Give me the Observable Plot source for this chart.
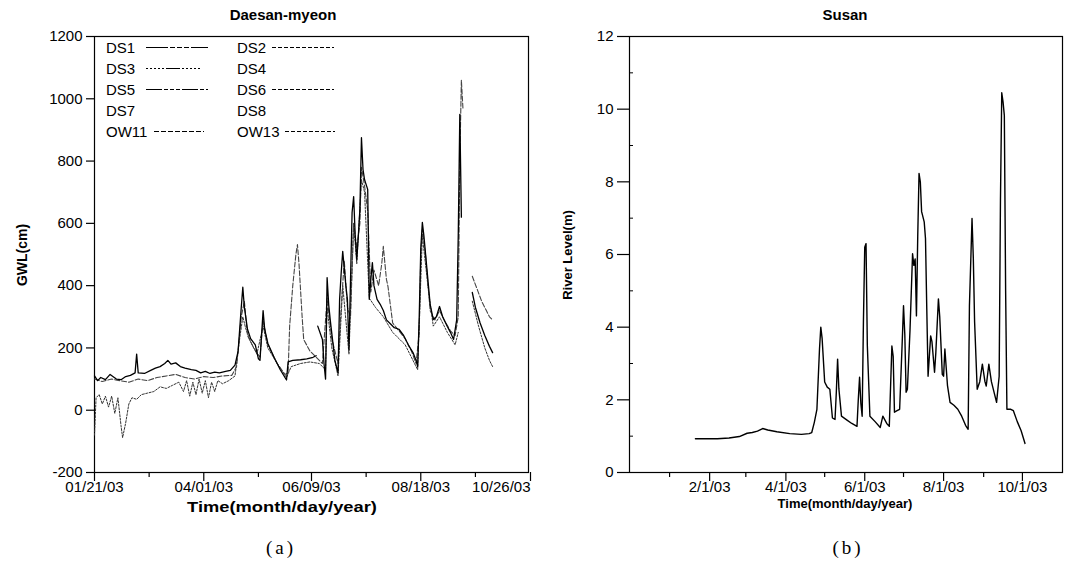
<!DOCTYPE html>
<html>
<head>
<meta charset="utf-8">
<script src="https://cdn.jsdelivr.net/npm/d3@7"></script>
<script src="https://cdn.jsdelivr.net/npm/@observablehq/plot@0.6"></script>
<style>
  body { margin: 0; background: #fff; }
  #wrap { position: relative; width: 1066px; height: 574px; font-family: "Liberation Sans", Arial, sans-serif; color: #000; overflow: hidden; }
  .abs { position: absolute; white-space: nowrap; }
  .title { font-weight: bold; font-size: 15px; transform: translate(-50%, -50%); }
  .xlab { font-weight: bold; font-size: 15px; line-height: 15px; transform: translate(-50%, -50%) scaleX(1.22); }
  .xlab.small { font-size: 13px; line-height: 13px; transform: translate(-50%, -50%); }
  .ylab { font-weight: bold; font-size: 14px; transform: translate(-50%, -50%) rotate(-90deg); }
  .cap { font-family: "Liberation Serif", "DejaVu Serif", serif; font-size: 19px; letter-spacing: 3px; transform: translate(-50%, -50%); }
  .leg { font-size: 15px; display: flex; align-items: center; transform: translateY(-50%); }
  #wrap svg.plot { position: absolute; top: 0; }
</style>
</head>
<body>
<div id="wrap"></div>
<script>
// ---------- data ----------
const gwlTitle = "Daesan-myeon";
const riverTitle = "Susan";
const xTitle = "Time(month/day/year)";
const gwlYLabel = "GWL(cm)";
const riverYLabel = "River Level(m)";

const gwlXTicks = ["2003-01-21", "2003-04-01", "2003-06-09", "2003-08-18", "2003-10-26"];
const gwlXMinor = ["2003-02-25", "2003-05-06", "2003-07-14", "2003-09-22"];
const gwlYTicks = [-200, 0, 200, 400, 600, 800, 1000, 1200];

const riverXTicks = ["2003-02-01", "2003-04-01", "2003-06-01", "2003-08-01", "2003-10-01"];
const riverXMinor = ["2003-01-01", "2003-03-01", "2003-05-01", "2003-07-01", "2003-09-01"];
const riverYTicks = [0, 2, 4, 6, 8, 10, 12];
const riverYMinor = [1, 3, 5, 7, 9, 11];

const legendNames = ["DS1", "DS2", "DS3", "DS4", "DS5", "DS6", "DS7", "DS8", "OW11", "OW13"];
const legendDash = ["22 2 5 2 5 2 5 2", "4 2", "2 2 2 2 2 2 2 2 2 2 14", "", "16 2 4 2 4 2 4 2", "4 2 4 2", "", "", "5 2", "4 2 4 2"];

// DS1 (solid)
const ds1 = [
  ["2003-01-21",110],["2003-01-23",95],["2003-01-25",105],["2003-01-28",98],["2003-01-31",115],["2003-02-04",100],
  ["2003-02-07",98],["2003-02-10",108],["2003-02-13",112],["2003-02-16",120],["2003-02-17",180],["2003-02-18",120],
  ["2003-02-22",118],["2003-02-26",128],["2003-03-01",135],["2003-03-04",140],["2003-03-07",150],["2003-03-09",160],
  ["2003-03-11",148],["2003-03-14",152],["2003-03-17",140],["2003-03-20",135],["2003-03-24",130],["2003-03-27",128],
  ["2003-03-30",120],["2003-04-02",125],["2003-04-05",118],["2003-04-08",122],["2003-04-11",120],["2003-04-15",125],
  ["2003-04-18",128],["2003-04-21",145],["2003-04-23",190],["2003-04-25",330],["2003-04-26",395],["2003-04-27",330],
  ["2003-04-29",260],["2003-05-01",230],["2003-05-04",210],["2003-05-06",165],["2003-05-07",160],["2003-05-09",320],
  ["2003-05-10",260],["2003-05-12",215],["2003-05-16",170],["2003-05-20",130],["2003-05-24",97],["2003-05-25",155],
  ["2003-05-28",160],["2003-06-02",162],["2003-06-06",165],["2003-06-10",170],["2003-06-12",175],["2003-06-12",null],
  ["2003-06-13",270],["2003-06-16",227],["2003-06-17",150],["2003-06-18",100],["2003-06-19",426],["2003-06-20",340],
  ["2003-06-21",290],["2003-06-24",160],["2003-06-26",120],["2003-06-27",356],["2003-06-28",440],["2003-06-29",510],
  ["2003-07-01",400],["2003-07-02",356],["2003-07-03",195],["2003-07-04",420],["2003-07-05",635],["2003-07-06",686],
  ["2003-07-07",560],["2003-07-08",484],["2003-07-09",560],["2003-07-10",645],["2003-07-11",875],["2003-07-12",773],
  ["2003-07-13",740],["2003-07-15",709],["2003-07-16",356],["2003-07-17",420],["2003-07-18",474],["2003-07-19",400],
  ["2003-07-21",356],["2003-07-23",340],["2003-07-25",320],["2003-07-27",290],["2003-07-30",275],["2003-08-01",265],
  ["2003-08-04",260],["2003-08-07",240],["2003-08-10",210],["2003-08-13",185],["2003-08-15",160],["2003-08-16",140],
  ["2003-08-17",300],["2003-08-18",520],["2003-08-19",603],["2003-08-20",560],["2003-08-22",450],["2003-08-24",340],
  ["2003-08-26",291],["2003-08-28",300],["2003-08-30",333],["2003-09-01",300],["2003-09-04",269],["2003-09-06",250],
  ["2003-09-08",227],["2003-09-10",290],["2003-09-11",560],["2003-09-12",950],["2003-09-13",620],["2003-09-13",null],
  ["2003-09-20",378],["2003-09-22",330],["2003-09-25",280],["2003-09-28",240],["2003-10-01",205],["2003-10-03",185]
];

// DS2 (dashed)
const ds2 = [
  ["2003-01-21",100],["2003-01-26",92],["2003-02-01",100],["2003-02-06",95],["2003-02-12",90],["2003-02-18",100],
  ["2003-02-24",95],["2003-03-02",105],["2003-03-08",110],["2003-03-14",115],["2003-03-20",105],["2003-03-26",100],
  ["2003-04-01",108],["2003-04-07",105],["2003-04-13",110],["2003-04-19",112],["2003-04-22",140],["2003-04-25",300],
  ["2003-04-27",350],["2003-04-29",240],["2003-05-03",200],["2003-05-07",170],["2003-05-09",290],["2003-05-12",210],
  ["2003-05-18",150],["2003-05-23",115],["2003-05-25",120],["2003-05-26",270],["2003-05-28",400],["2003-05-30",500],
  ["2003-05-31",532],["2003-06-01",470],["2003-06-03",300],["2003-06-04",227],["2003-06-08",190],["2003-06-12",170],
  ["2003-06-16",150],["2003-06-19",360],["2003-06-22",230],["2003-06-26",150],["2003-06-28",330],["2003-06-30",480],
  ["2003-07-02",330],["2003-07-04",300],["2003-07-06",600],["2003-07-08",520],["2003-07-10",600],["2003-07-11",780],
  ["2003-07-13",720],["2003-07-15",640],["2003-07-17",380],["2003-07-19",450],["2003-07-22",400],["2003-07-24",470],
  ["2003-07-25",526],["2003-07-27",420],["2003-07-28",397],["2003-07-31",280],["2003-08-04",255],["2003-08-08",230],
  ["2003-08-12",190],["2003-08-15",150],["2003-08-17",250],["2003-08-18",500],["2003-08-19",580],["2003-08-21",500],
  ["2003-08-24",320],["2003-08-27",290],["2003-08-30",320],["2003-09-02",290],["2003-09-06",255],["2003-09-09",240],
  ["2003-09-11",300],["2003-09-12",800],["2003-09-13",1060],["2003-09-14",970],["2003-09-14",null],
  ["2003-09-20",430],["2003-09-23",390],["2003-09-26",350],["2003-09-29",320],["2003-10-01",300],["2003-10-03",290]
];

// DS3 (dotted, lower early record)
const ds3 = [
  ["2003-01-21",-80],["2003-01-22",40],["2003-01-24",50],["2003-01-26",20],["2003-01-28",45],["2003-01-30",10],
  ["2003-02-01",45],["2003-02-03",-10],["2003-02-05",40],["2003-02-07",-50],["2003-02-08",-88],["2003-02-10",-40],
  ["2003-02-12",20],["2003-02-14",40],["2003-02-17",35],["2003-02-20",50],["2003-02-24",55],["2003-02-28",60],
  ["2003-03-04",75],["2003-03-08",70],["2003-03-12",80],["2003-03-16",90],["2003-03-19",60],["2003-03-21",95],
  ["2003-03-23",45],["2003-03-25",90],["2003-03-27",50],["2003-03-29",100],["2003-03-31",55],["2003-04-02",95],
  ["2003-04-04",40],["2003-04-06",90],["2003-04-08",60],["2003-04-10",95],["2003-04-13",85],["2003-04-17",95],
  ["2003-04-21",110],["2003-04-24",230],["2003-04-26",300],["2003-04-28",260],["2003-05-01",220],["2003-05-05",180],
  ["2003-05-09",270],["2003-05-12",200],["2003-05-18",150],["2003-05-24",105],["2003-05-27",140],["2003-06-02",150],
  ["2003-06-08",155],["2003-06-14",150],["2003-06-18",130],["2003-06-19",330],["2003-06-22",200],["2003-06-26",110],
  ["2003-06-29",400],["2003-07-03",180],["2003-07-06",600],["2003-07-08",470],["2003-07-11",740],["2003-07-13",700],
  ["2003-07-16",360],["2003-07-20",330],["2003-07-25",300],["2003-07-31",250],["2003-08-08",210],["2003-08-16",130],
  ["2003-08-19",560],["2003-08-23",380],["2003-08-26",270],["2003-08-30",300],["2003-09-04",250],["2003-09-09",210],
  ["2003-09-11",250],["2003-09-11",null],["2003-09-20",350],["2003-09-24",270],["2003-09-28",200],["2003-10-01",160],
  ["2003-10-03",140]
];

// Susan river level (m)
const river = [
  ["2003-01-21",0.93],["2003-01-28",0.93],["2003-02-07",0.93],["2003-02-16",0.95],["2003-02-24",0.99],["2003-03-02",1.08],
  ["2003-03-06",1.10],["2003-03-10",1.14],["2003-03-14",1.21],["2003-03-18",1.17],["2003-03-25",1.12],["2003-04-04",1.07],
  ["2003-04-13",1.05],["2003-04-19",1.07],["2003-04-21",1.10],["2003-04-23",1.38],["2003-04-25",1.74],["2003-04-27",3.40],
  ["2003-04-28",4.0],["2003-04-29",3.7],["2003-05-01",2.49],["2003-05-03",2.35],["2003-05-05",2.29],["2003-05-07",1.50],
  ["2003-05-09",1.46],["2003-05-10",2.2],["2003-05-11",3.12],["2003-05-12",2.3],["2003-05-14",1.55],["2003-05-18",1.45],
  ["2003-05-22",1.35],["2003-05-26",1.27],["2003-05-27",2.0],["2003-05-28",2.62],["2003-05-29",1.9],["2003-05-30",1.55],
  ["2003-05-31",4.2],["2003-06-01",6.2],["2003-06-02",6.3],["2003-06-03",3.5],["2003-06-05",1.55],["2003-06-09",1.40],
  ["2003-06-13",1.24],["2003-06-15",1.55],["2003-06-18",1.35],["2003-06-20",1.27],["2003-06-22",3.48],["2003-06-23",3.20],
  ["2003-06-24",1.66],["2003-06-26",1.70],["2003-06-28",1.74],["2003-06-30",3.6],["2003-07-01",4.59],["2003-07-02",3.8],
  ["2003-07-03",2.21],["2003-07-04",2.29],["2003-07-06",3.9],["2003-07-08",6.02],["2003-07-09",5.7],["2003-07-10",5.88],
  ["2003-07-11",4.31],["2003-07-12",6.5],["2003-07-13",8.23],["2003-07-14",8.0],["2003-07-15",7.18],["2003-07-17",6.9],
  ["2003-07-18",6.44],["2003-07-19",4.5],["2003-07-20",2.65],["2003-07-22",3.76],["2003-07-23",3.6],["2003-07-25",2.76],
  ["2003-07-26",3.3],["2003-07-28",4.78],["2003-07-29",4.3],["2003-07-31",2.7],["2003-08-01",2.65],["2003-08-02",3.40],
  ["2003-08-04",2.4],["2003-08-06",1.93],["2003-08-09",1.85],["2003-08-12",1.74],["2003-08-15",1.55],["2003-08-18",1.30],
  ["2003-08-20",1.19],["2003-08-21",4.59],["2003-08-23",6.99],["2003-08-24",5.9],["2003-08-25",4.14],["2003-08-27",2.29],
  ["2003-08-29",2.5],["2003-08-31",2.98],["2003-09-02",2.5],["2003-09-03",2.38],["2003-09-05",2.98],["2003-09-07",2.5],
  ["2003-09-11",1.93],["2003-09-13",2.65],["2003-09-14",7.5],["2003-09-15",10.45],["2003-09-16",10.2],["2003-09-17",9.83],
  ["2003-09-18",5.0],["2003-09-19",1.74],["2003-09-22",1.74],["2003-09-24",1.70],["2003-09-27",1.40],["2003-09-30",1.15],
  ["2003-10-03",0.80]
];

// ---------- build ----------
const parse = s => new Date(s + "T00:00:00Z");
const rows = arr => arr.map(([d, v]) => ({date: parse(d), value: v}));
const fmtLeft = d3.utcFormat("%m/%d/%y");
const fmtRight = d => `${d.getUTCMonth() + 1}/${d.getUTCDate()}/${String(d.getUTCFullYear()).slice(2)}`;
const FONT = '"Liberation Sans", Arial, sans-serif';

const wrap = document.getElementById("wrap");

const left = Plot.plot({
  width: 540, height: 574,
  marginLeft: 94, marginRight: 12, marginTop: 36, marginBottom: 102,
  style: {fontFamily: FONT, fontSize: "15px", color: "#000", background: "transparent", overflow: "visible"},
  x: {type: "utc", domain: [parse(gwlXTicks[0]), parse(gwlXTicks[gwlXTicks.length - 1])]},
  y: {domain: [gwlYTicks[0], gwlYTicks[gwlYTicks.length - 1]]},
  marks: [
    Plot.frame({stroke: "#000", strokeWidth: 1.2}),
    Plot.axisX({ticks: gwlXTicks.slice(0, -1).map(parse), tickSize: 9, tickPadding: 0, tickFormat: fmtLeft, label: null, strokeWidth: 1.2}),
    Plot.axisX({ticks: gwlXTicks.slice(-1).map(parse), tickSize: 9, tickPadding: 0, tickFormat: fmtLeft, textAnchor: "end", dx: 2, label: null, strokeWidth: 1.2}),
    Plot.axisX({ticks: gwlXMinor.map(parse), tickSize: 5, tickFormat: () => "", label: null, strokeWidth: 1.2}),
    Plot.axisY({ticks: gwlYTicks, tickSize: 8, tickPadding: 4, tickFormat: d => String(d), label: null, strokeWidth: 1.2}),
    Plot.line(rows(ds3), {x: "date", y: "value", stroke: "#333", strokeWidth: 1, strokeDasharray: "2,1.5"}),
    Plot.line(rows(ds2), {x: "date", y: "value", stroke: "#444", strokeWidth: 1.1, strokeDasharray: "5,2"}),
    Plot.line(rows(ds1), {x: "date", y: "value", stroke: "#000", strokeWidth: 1.3})
  ]
});
left.classList.add("plot");
left.style.left = "0px";
wrap.appendChild(left);

const right = Plot.plot({
  width: 531, height: 574,
  marginLeft: 94, marginRight: 4, marginTop: 36, marginBottom: 102,
  style: {fontFamily: FONT, fontSize: "15px", color: "#000", background: "transparent", overflow: "visible"},
  x: {type: "utc", domain: [parse("2002-12-01"), parse("2003-11-01")]},
  y: {domain: [riverYTicks[0], riverYTicks[riverYTicks.length - 1]]},
  marks: [
    Plot.frame({stroke: "#000", strokeWidth: 1.2}),
    Plot.axisX({ticks: riverXTicks.map(parse), tickSize: 9, tickPadding: 0, tickFormat: fmtRight, label: null, strokeWidth: 1.2}),
    Plot.axisX({ticks: riverXMinor.map(parse), tickSize: 5, tickFormat: () => "", label: null, strokeWidth: 1.2}),
    Plot.axisY({ticks: riverYTicks, tickSize: 12, tickPadding: 4, tickFormat: d => String(d), label: null, strokeWidth: 1.2}),
    Plot.axisY({ticks: riverYMinor, tickSize: 4, dx: 4, tickFormat: () => "", label: null, strokeWidth: 1}),
    Plot.line(rows(river), {x: "date", y: "value", stroke: "#000", strokeWidth: 1.4})
  ]
});
right.classList.add("plot");
right.style.left = "535px";
wrap.appendChild(right);

function addText(cls, text, x, y) {
  const el = document.createElement("div");
  el.className = "abs " + cls;
  el.textContent = text;
  el.style.left = x + "px";
  el.style.top = y + "px";
  wrap.appendChild(el);
  return el;
}
addText("title", gwlTitle, 283, 14);
addText("title", riverTitle, 845, 14);
addText("ylab", gwlYLabel, 22, 255);
addText("ylab", riverYLabel, 567, 255).style.fontSize = "13px";
addText("xlab", xTitle, 282, 506);
addText("xlab small", xTitle, 845, 503);
addText("cap", "(a)", 281, 548);
addText("cap", "(b)", 848, 548);

// legend (two columns, inside the left frame)
legendNames.forEach((name, i) => {
  const col = i % 2, row = Math.floor(i / 2);
  const el = document.createElement("div");
  el.className = "abs leg";
  el.style.left = (col === 0 ? 106 : 237) + "px";
  el.style.top = (47 + row * 21) + "px";
  const label = document.createElement("span");
  label.textContent = name;
  label.style.display = "inline-block";
  label.style.minWidth = name.startsWith("OW") ? "48px" : (col === 0 ? "40px" : "35px");
  el.appendChild(label);
  if (legendDash[i]) {
    const w = name.startsWith("OW") ? 50 : 62;
    const svg = d3.create("svg").attr("width", w).attr("height", 6);
    svg.append("line").attr("x1", 0).attr("x2", w).attr("y1", 3).attr("y2", 3)
      .attr("stroke", "#000").attr("stroke-width", 1.1).attr("stroke-dasharray", legendDash[i]);
    el.appendChild(svg.node());
  }
  wrap.appendChild(el);
});
</script>
</body>
</html>
